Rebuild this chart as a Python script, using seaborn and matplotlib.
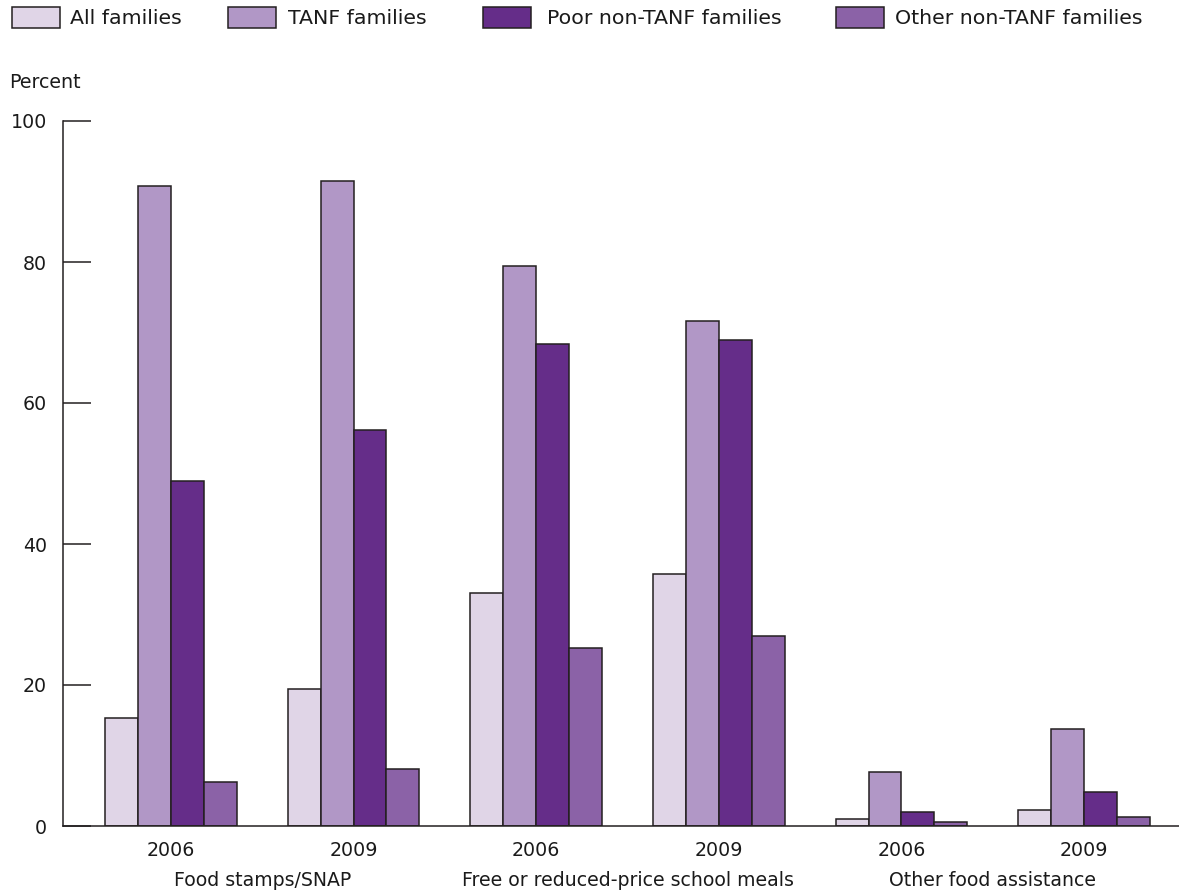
import matplotlib
matplotlib.use("Agg")
import matplotlib.pyplot as plt
from matplotlib.patches import Rectangle
import seaborn as sns
import pandas as pd

# ---- data ----
programs = ["Food stamps/SNAP", "Free or reduced-price school meals", "Other food assistance"]
years = ["2006", "2009"]
families = ["All families", "TANF families", "Poor non-TANF families", "Other non-TANF families"]

all_families = [15.3, 19.4, 33.0, 35.8, 1.0, 2.3]
tanf_families = [90.8, 91.5, 79.5, 71.7, 7.6, 13.8]
poor_non_tanf = [48.9, 56.1, 68.4, 68.9, 2.0, 4.8]
other_non_tanf = [6.3, 8.1, 25.2, 27.0, 0.5, 1.3]

y_ticks = [0, 20, 40, 60, 80, 100]
colors = ["#E0D5E7", "#B197C6", "#652D89", "#8B62A7"]
edge = "#231F20"
txt_color = "#1a1a1a"

groups = [f"{p} {y}" for p in programs for y in years]
series = [all_families, tanf_families, poor_non_tanf, other_non_tanf]
rows = []
for fam, vals in zip(families, series):
    for g, v in zip(groups, vals):
        rows.append({"group": g, "family": fam, "value": v})
df = pd.DataFrame(rows)

sns.set_style("white")
plt.rcParams["font.family"] = ["DejaVu Sans"]

W, H = 1179, 892
fig = plt.figure(figsize=(W / 100, H / 100), dpi=100)
renderer = fig.canvas.get_renderer()


def size_for(s, target_px, base=14.0):
    t = fig.text(0, 0, s, fontsize=base)
    w = t.get_window_extent(renderer).width
    t.remove()
    return base * target_px / w


FS_LEG = size_for("Other non-TANF families", 248)
FS_TICK = size_for("2006", 48)
FS_CAT = size_for("Other food assistance", 208)
FS_Y = size_for("100", 36)

ax = fig.add_axes([63 / W, 1 - 826 / H, (W - 63) / W, (826 - 121) / H])

sns.barplot(data=df, x="group", y="value", hue="family", order=groups,
            hue_order=families, palette=colors, width=0.72, saturation=1,
            edgecolor=edge, linewidth=1.1, legend=False, ax=ax)

ax.set_xlim(-0.591, 5.52)
ax.set_ylim(0, 100)
ax.set_xlabel("")
ax.set_ylabel("")
ax.set_yticks(y_ticks)
ax.set_yticklabels([str(t) for t in y_ticks], fontsize=FS_Y, color=txt_color)
ax.set_xticks(range(len(groups)))
ax.set_xticklabels([y for p in programs for y in years], fontsize=FS_TICK, color=txt_color)
ax.tick_params(axis="y", which="major", left=True, direction="in", length=20,
               width=1.1, color=edge, pad=11.5)
ax.tick_params(axis="x", bottom=False, length=0, pad=11)
for s in ["top", "right"]:
    ax.spines[s].set_visible(False)
for s in ["left", "bottom"]:
    ax.spines[s].set_color(edge)
    ax.spines[s].set_linewidth(1.1)
ax.grid(False)

# program labels beneath year pairs
for i, p in enumerate(programs):
    ax.annotate(p, xy=(2 * i + 0.5, 0), xycoords=("data", "axes fraction"),
                xytext=(0, -54 * 0.72), textcoords="offset points",
                ha="center", va="center", fontsize=FS_CAT, color=txt_color)

# "Percent" label
fig.text(9 / W, 1 - 83 / H, "Percent", ha="left", va="center", fontsize=FS_Y, color=txt_color)

# legend (manual, fixed positions)
patch_x = [12, 228, 483, 836]
text_x = [70, 288, 547, 895]
for px, tx, lab, c in zip(patch_x, text_x, families, colors):
    fig.patches.append(Rectangle((px / W, 1 - 28 / H), 48 / W, 21 / H,
                                 transform=fig.transFigure, facecolor=c,
                                 edgecolor=edge, linewidth=1.1))
    fig.text(tx / W, 1 - 18 / H, lab, ha="left", va="center", fontsize=FS_LEG, color=txt_color)

fig.savefig("out.png", dpi=100)
